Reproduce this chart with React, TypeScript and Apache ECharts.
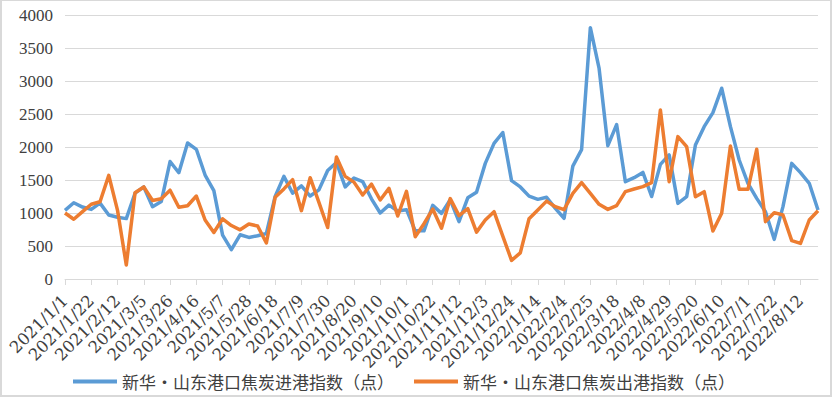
import React, { useEffect, useRef } from "react";
import * as echarts from "echarts";

const START_DATE = [2021, 1, 1];
const WEEK_COUNT = 87;

const inboundIndex = [
  1040, 1155, 1090, 1055, 1150, 970, 935, 915, 1300, 1395,
  1095, 1175, 1780, 1610, 2060, 1965, 1575, 1340, 665, 445,
  670, 630, 655, 690, 1250, 1555, 1300, 1410, 1257, 1350,
  1645, 1765, 1395, 1530, 1475, 1215, 1000, 1120, 1030, 1050,
  730, 730, 1115, 995, 1200, 870, 1230, 1315, 1752, 2055,
  2220, 1490, 1395, 1255, 1207, 1238, 1070, 920, 1710, 1960,
  3808, 3190, 2020, 2340, 1475, 1535, 1615, 1250, 1737, 1880,
  1146, 1247, 2030, 2308, 2520, 2890, 2308, 1803, 1450, 1222,
  1020, 601, 1096, 1752, 1611, 1450, 1045,
];

const outboundIndex = [
  1000, 905, 1020, 1133, 1170, 1570, 1040, 212, 1308, 1395,
  1190, 1215, 1345, 1086, 1110, 1257, 894, 705, 912, 810,
  745, 833, 803, 545, 1237, 1365, 1505, 1035, 1535, 1160,
  780, 1848, 1555, 1468, 1273, 1437, 1197, 1373, 955, 1328,
  641, 838, 1060, 770, 1218, 960, 1065, 710, 894, 1020,
  650, 283, 395, 912, 1045, 1180, 1096, 1050, 1298, 1460,
  1298, 1131, 1055, 1111, 1323, 1363, 1399, 1460, 2561, 1475,
  2157, 2005, 1247, 1323, 727, 995, 2015, 1358, 1358, 1965,
  869, 1005, 970, 581, 540, 894, 1035,
];

const seriesNames = [
  "新华•山东港口焦炭进港指数（点）",
  "新华•山东港口焦炭出港指数（点）",
];

const yTicks = [0, 500, 1000, 1500, 2000, 2500, 3000, 3500, 4000];

function buildCategories(): string[] {
  const out: string[] = [];
  const d = new Date(Date.UTC(START_DATE[0], START_DATE[1] - 1, START_DATE[2]));
  for (let i = 0; i < WEEK_COUNT; i++) {
    out.push(`${d.getUTCFullYear()}/${d.getUTCMonth() + 1}/${d.getUTCDate()}`);
    d.setUTCDate(d.getUTCDate() + 7);
  }
  return out;
}

const categories = buildCategories();

export default function App() {
  const ref = useRef<HTMLDivElement>(null);
  useEffect(() => {
    if (!ref.current) return;
    const chart = echarts.init(ref.current, undefined, { renderer: "svg" });
    const serif = "'Liberation Serif', 'DejaVu Serif', serif";
    chart.setOption({
      animation: false,
      backgroundColor: "#ffffff",
      grid: { left: 65, right: 14, top: 15, bottom: 118, containLabel: false },
      legend: {
        left: 68,
        top: 368,
        icon: "rect",
        itemWidth: 44,
        itemHeight: 4,
        itemGap: 20,
        textStyle: {
          fontFamily: "'Noto Sans CJK SC', sans-serif",
          fontSize: 17,
          color: "#404040",
        },
        data: seriesNames,
      },
      xAxis: {
        type: "category",
        data: categories,
        boundaryGap: false,
        axisLine: { show: true, lineStyle: { color: "#d9d9d9", width: 1 } },
        axisTick: { show: true, interval: 2, length: 6, lineStyle: { color: "#d9d9d9" } },
        axisLabel: {
          interval: 2,
          rotate: 45,
          margin: 19,
          fontFamily: "'DejaVu Serif', serif",
          fontSize: 16.5,
          color: "#404040",
        },
        splitLine: { show: false },
      },
      yAxis: {
        type: "value",
        min: yTicks[0],
        max: yTicks[yTicks.length - 1],
        interval: 500,
        axisLine: { show: false },
        axisTick: { show: false },
        axisLabel: {
          fontFamily: serif,
          fontSize: 17,
          color: "#404040",
          margin: 12,
          formatter: (v: number) => String(v),
        },
        splitLine: { lineStyle: { color: "#d9d9d9", width: 1 } },
      },
      series: [
        {
          name: seriesNames[0],
          type: "line",
          data: inboundIndex,
          symbol: "none",
          showSymbol: false,
          lineStyle: { color: "#5B9BD5", width: 3.5, join: "round" },
          itemStyle: { color: "#5B9BD5" },
          z: 2,
        },
        {
          name: seriesNames[1],
          type: "line",
          data: outboundIndex,
          symbol: "none",
          showSymbol: false,
          lineStyle: { color: "#ED7D31", width: 3.5, join: "round" },
          itemStyle: { color: "#ED7D31" },
          z: 3,
        },
      ],
    });
    return () => chart.dispose();
  }, []);
  return (
    <div style={{ position: "fixed", left: 0, top: 0, width: 832, height: 397, background: "#fff" }}>
      <div ref={ref} style={{ position: "absolute", left: 0, top: 0, width: 832, height: 397 }} />
      <div
        style={{
          position: "absolute",
          left: 0,
          top: 0,
          width: 832,
          height: 397,
          boxSizing: "border-box",
          borderTop: "1px solid #d9d9d9",
          borderLeft: "2px solid #d9d9d9",
          borderRight: "2px solid #d9d9d9",
          borderBottom: "2px solid #d9d9d9",
          pointerEvents: "none",
        }}
      />
    </div>
  );
}
